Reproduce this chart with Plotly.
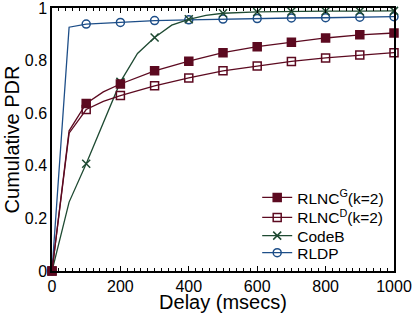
import plotly.graph_objects as go

# Line vertices (ms) and marker positions
delay_g = [0, 50, 100, 150, 200, 300, 400, 500, 600, 700, 800, 900, 1000]
rlnc_g = [0, 0.533, 0.637, 0.681, 0.711, 0.761, 0.798, 0.830, 0.853, 0.870, 0.886, 0.898, 0.905]
rlnc_d = [0, 0.524, 0.614, 0.645, 0.667, 0.704, 0.734, 0.761, 0.779, 0.797, 0.810, 0.821, 0.830]

delay_c = [0, 50, 100, 150, 200, 250, 300, 350, 400, 450, 500, 600, 700, 800, 900, 1000]
codeb = [0, 0.262, 0.408, 0.565, 0.719, 0.827, 0.888, 0.935, 0.957, 0.972, 0.980, 0.985, 0.987, 0.988, 0.988, 0.989]

delay_r = [0, 50, 100, 200, 300, 400, 500, 600, 700, 800, 900, 1000]
rldp = [0, 0.927, 0.939, 0.945, 0.952, 0.955, 0.958, 0.960, 0.962, 0.963, 0.965, 0.967]

marker_delays = [0, 100, 200, 300, 400, 500, 600, 700, 800, 900, 1000]

names = ["RLNC<sup>G</sup>(k=2)", "RLNC<sup>D</sup>(k=2)", "CodeB", "RLDP"]
MAROON = "#5c0a20"
GREEN = "#1e4a32"
BLUE = "#1d4e88"


def pick(xs, ys, keep):
    d = dict(zip(xs, ys))
    return [x for x in keep if x in d], [d[x] for x in keep if x in d]


series = [
    (names[0], delay_g, rlnc_g, MAROON, "square", 8),
    (names[1], delay_g, rlnc_d, MAROON, "square-open", 8),
    (names[2], delay_c, codeb, GREEN, "x-thin-open", 8),
    (names[3], delay_r, rldp, BLUE, "circle-open", 8),
]

fig = go.Figure()
# draw in reverse so RLNC^G sits on top
for name, xs, ys, col, sym, sz in reversed(series):
    fig.add_trace(go.Scatter(x=xs, y=ys, mode="lines", line=dict(color=col, width=1.3),
                             showlegend=False, hoverinfo="skip", cliponaxis=False))
    mx, my = pick(xs, ys, marker_delays)
    fig.add_trace(go.Scatter(x=mx, y=my, mode="markers", showlegend=False, cliponaxis=False,
                             marker=dict(symbol=sym, size=sz, color=col,
                                         line=dict(color=col, width=1.5))))

legend_ids = ["legend", "legend2", "legend3", "legend4"]
legend_y = [0.278, 0.202, 0.133, 0.068]
for (name, xs, ys, col, sym, sz), lid in zip(series, legend_ids):
    fig.add_trace(go.Scatter(x=[None], y=[None], mode="lines+markers", name=name,
                             legend=lid,
                             line=dict(color=col, width=1.3),
                             marker=dict(symbol=sym, size=sz, color=col,
                                         line=dict(color=col, width=1.5))))

FONT = "Liberation Sans, Arial, Helvetica, sans-serif"
legend_layout = {}
for lid, ly in zip(legend_ids, legend_y):
    legend_layout[lid] = dict(x=0.6, y=ly, xanchor="left", yanchor="middle",
                              bgcolor="rgba(0,0,0,0)", font=dict(size=15.5),
                              itemwidth=30)

fig.update_layout(
    width=415, height=313,
    margin=dict(l=52, r=21, t=8, b=42),
    paper_bgcolor="white", plot_bgcolor="white",
    font=dict(family=FONT, size=16, color="black"),
    showlegend=True,
    xaxis=dict(range=[0, 1000], tickvals=[0, 200, 400, 600, 800, 1000],
               automargin=False, ticklabeloverflow="allow",
               showgrid=False, zeroline=False, showline=True, linecolor="black",
               linewidth=1.5, mirror="ticks", ticks="inside", ticklen=5,
               tickcolor="black", tickwidth=1,
               minor=dict(dtick=20, ticks="inside", ticklen=3, tickcolor="black", tickwidth=1),
               title=dict(text="Delay (msecs)", font=dict(size=20), standoff=5),
               tickfont=dict(size=16)),
    yaxis=dict(range=[0, 1], tickvals=[0, 0.2, 0.4, 0.6, 0.8, 1],
               ticktext=["0", "0.2", "0.4", "0.6", "0.8", "1"],
               automargin=False, ticklabeloverflow="allow",
               showgrid=False, zeroline=False, showline=True, linecolor="black",
               linewidth=1.5, mirror=True, ticks="",
               title=dict(text="Cumulative PDR", font=dict(size=20), standoff=0),
               tickfont=dict(size=16)),
    **legend_layout,
)

fig.write_html("out.html", config={"displayModeBar": False},
               post_script="document.body.style.margin='0';document.body.style.overflow='hidden';")
